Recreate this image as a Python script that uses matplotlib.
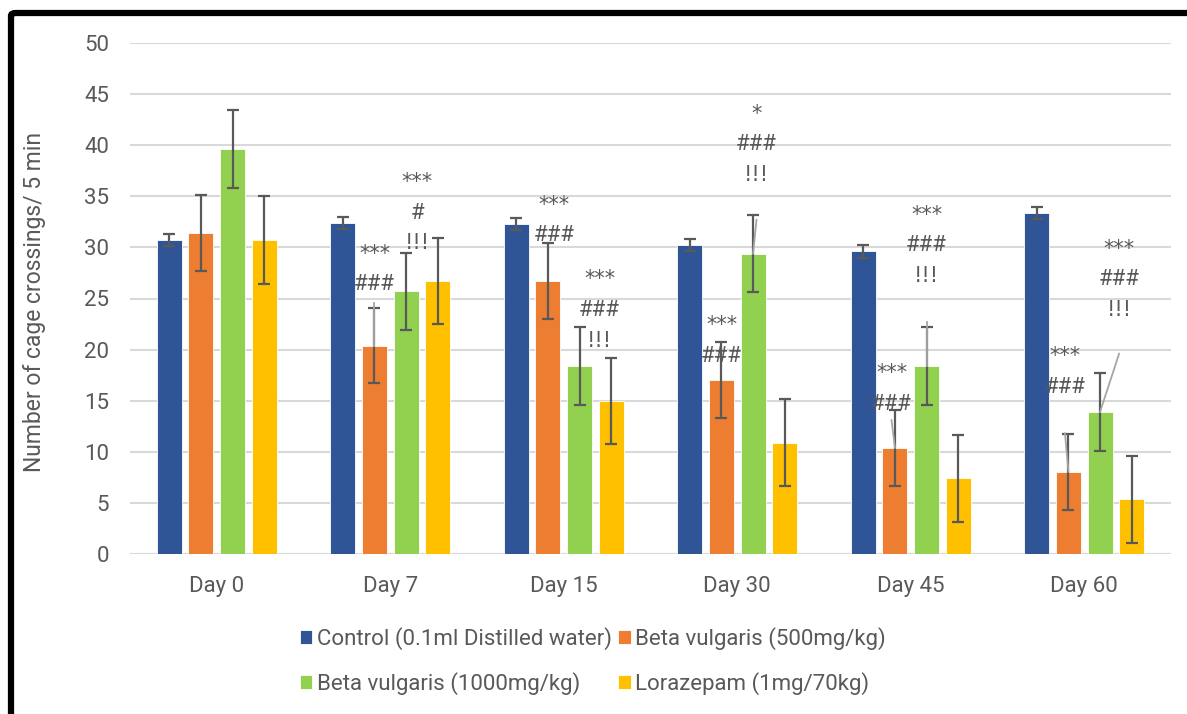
import matplotlib.pyplot as plt
import matplotlib.patches as mpatches
import numpy as np

plt.rcParams['font.family'] = ['Roboto', 'DejaVu Sans']

days = ['Day 0', 'Day 7', 'Day 15', 'Day 30', 'Day 45', 'Day 60']
series_names = ['Control (0.1ml Distilled water)', 'Beta vulgaris (500mg/kg)',
                'Beta vulgaris (1000mg/kg)', 'Lorazepam (1mg/70kg)']
colors = ['#2F5597', '#ED7D31', '#92D050', '#FFC000']

control = [30.7, 32.4, 32.3, 30.2, 29.6, 33.4]
beta500 = [31.4, 20.4, 26.7, 17.0, 10.4, 8.05]
beta1000 = [39.6, 25.7, 18.4, 29.4, 18.4, 13.9]
loraz = [30.7, 26.7, 15.0, 10.9, 7.4, 5.35]

control_err = [0.6, 0.6, 0.6, 0.6, 0.6, 0.6]
beta500_err = [3.7, 3.7, 3.7, 3.7, 3.7, 3.7]
beta1000_err = [3.8, 3.8, 3.8, 3.8, 3.8, 3.8]
loraz_err = [4.3, 4.2, 4.2, 4.25, 4.25, 4.25]

values = [control, beta500, beta1000, loraz]
errors = [control_err, beta500_err, beta1000_err, loraz_err]

# significance marks: (day index, series index, lines, baseline of first line, x shift, leader start or None)
marks = [
    (1, 1, ['***', '###'], 28.8, 0.0, 24.6),
    (1, 2, ['***', '#', '!!!'], 35.8, 0.065, None),
    (2, 1, ['***', '###'], 33.6, 0.035, None),
    (2, 2, ['***', '###', '!!!'], 26.3, 0.115, None),
    (3, 2, ['*', '###', '!!!'], 42.5, 0.02, 32.7),
    (3, 1, ['***', '###'], 21.8, 0.0, None),
    (4, 1, ['***', '###'], 17.1, -0.02, 13.1),
    (4, 2, ['***', '###', '!!!'], 32.6, 0.0, 22.7),
    (5, 1, ['***', '###'], 18.8, -0.02, 11.8),
    (5, 2, ['***', '###', '!!!'], 29.3, 0.11, 19.6),
]
line_step = 3.0

text_color = '#595959'
fs = 16

fig = plt.figure(figsize=(11.87, 7.14), dpi=100)
ax = fig.add_axes([130 / 1187, 1 - 554 / 714, 1041 / 1187, 511 / 714])

x = np.arange(len(days))
spacing = 0.182
width = 0.144
for i, (vals, errs) in enumerate(zip(values, errors)):
    pos = x + (i - 1.5) * spacing
    ax.bar(pos, vals, width, color=colors[i], label=series_names[i], zorder=2,
           edgecolor='white', linewidth=0.6)
    ax.errorbar(pos, vals, yerr=errs, fmt='none', ecolor=text_color, elinewidth=1.6,
                capsize=4.5, capthick=1.6, zorder=3)

for d, s, lines, y0, dx, lead in marks:
    bx = x[d] + (s - 1.5) * spacing
    for k, t in enumerate(lines):
        if t.startswith('#'):
            ax.text(bx + dx, y0 - k * line_step, t, ha='center', va='baseline',
                    fontsize=16, color=text_color, zorder=4, family='Roboto')
        else:
            ax.text(bx + dx, y0 - k * line_step, t, ha='center', va='baseline',
                    fontsize=15, color=text_color, zorder=4, family='DejaVu Sans')
    if lead is not None:
        ax.plot([bx + dx, bx], [lead, values[s][d]], color='#A6A6A6', lw=1.3, zorder=4)

ax.set_xlim(-0.5, len(days) - 0.5)
ax.set_ylim(0, 50)
ax.set_yticks(np.arange(0, 51, 5))
ax.set_xticks(x)
ax.set_xticklabels(days)
ax.tick_params(axis='both', length=0, labelsize=fs, labelcolor=text_color)
ax.tick_params(axis='y', pad=15)
ax.tick_params(axis='x', pad=16)
ax.grid(axis='y', color='#D9D9D9', lw=1.5, zorder=0)
for sp in ax.spines.values():
    sp.set_visible(False)
ax.axhline(0, color='#D9D9D9', lw=1.5, zorder=1)

fig.text(35 / 1187, 1 - 302 / 714, 'Number of cage crossings/ 5 min', rotation=90,
         ha='center', va='center', fontsize=16.5, color=text_color)

h, l = ax.get_legend_handles_labels()
order = [0, 2, 1, 3]
leg = fig.legend([h[i] for i in order], [l[i] for i in order], ncol=2,
                 loc='center left', bbox_to_anchor=(280 / 1187, 1 - 661 / 714),
                 frameon=False, fontsize=fs, labelcolor=text_color,
                 handlelength=0.55, handleheight=0.55, handletextpad=0.2,
                 columnspacing=0.3, labelspacing=1.0)

# outer black frame
fig.patches.append(mpatches.FancyBboxPatch((11 / 1187, -0.2), 1.2, 1 - 13 / 714 + 0.2,
                                           boxstyle='round,pad=0,rounding_size=0.004',
                                           transform=fig.transFigure, fill=False,
                                           edgecolor='black', linewidth=4.5, zorder=10))

fig.savefig('out.png', dpi=100)
